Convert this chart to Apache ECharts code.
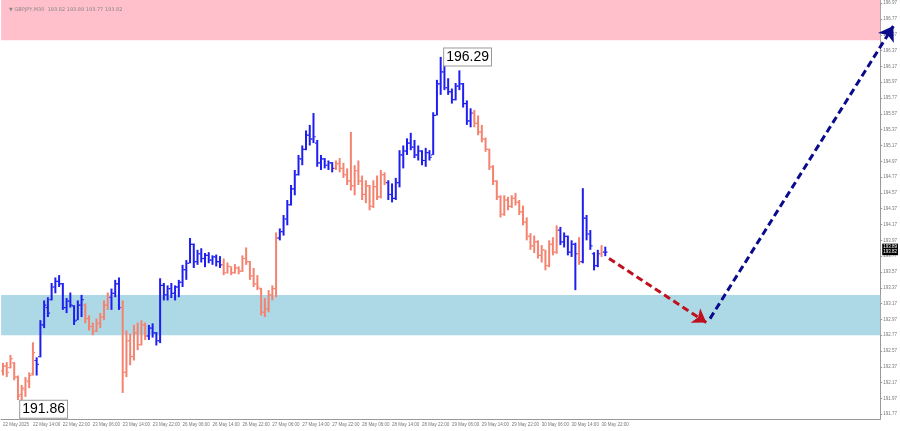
<!DOCTYPE html>
<html><head><meta charset="utf-8">
<script src="https://cdn.jsdelivr.net/npm/echarts@6/dist/echarts.min.js"></script>
<style>html,body{margin:0;padding:0;background:#fff}#c{width:900px;height:431px}</style>
</head><body><div id="c"></div>
<script>
const headerText = '\u25BC GBPJPY,M30  193.82 193.89 193.77 193.82';
const tickLabels = ['22 May 2025','22 May 14:00','22 May 22:00','23 May 06:00','23 May 14:00','23 May 22:00','26 May 06:00','26 May 14:00','26 May 22:00','27 May 06:00','27 May 14:00','27 May 22:00','28 May 06:00','28 May 14:00','28 May 22:00','29 May 06:00','29 May 14:00','29 May 22:00','30 May 06:00','30 May 14:00','30 May 22:00'];
const yTicks = [191.77,191.97,192.17,192.37,192.57,192.77,192.97,193.17,193.37,193.57,193.77,193.97,194.17,194.37,194.57,194.77,194.97,195.17,195.37,195.57,195.77,195.97,196.17,196.37,196.57,196.77,196.97];
const opens = [
192.32,192.38,192.36,192.42,192.24,192.02,192.08,192.18,192.28,192.45,
192.50,192.90,193.12,193.22,193.38,193.45,193.42,193.12,193.20,193.14,
192.96,193.15,193.15,192.98,192.88,192.82,192.92,193.00,193.15,193.25,
193.30,193.42,193.12,192.30,192.70,192.50,192.80,192.65,192.90,192.76,
192.86,192.80,192.70,193.40,193.28,193.36,193.30,193.38,193.44,193.60,
193.68,193.92,193.70,193.80,193.74,193.78,193.72,193.76,193.70,193.66,
193.56,193.64,193.56,193.62,193.58,193.74,193.70,193.52,193.42,193.36,
193.06,193.10,193.28,193.36,194.00,194.08,194.24,194.42,194.62,194.80,
195.00,195.12,195.30,195.25,195.20,194.95,195.00,194.92,194.95,194.88,
194.94,194.88,194.80,194.72,194.66,194.85,194.72,194.55,194.66,194.40,
194.65,194.52,194.80,194.70,194.55,194.50,194.70,195.05,195.10,195.20,
195.15,195.05,195.10,194.98,195.08,195.05,195.55,195.95,196.10,195.90,
195.85,195.75,195.92,195.95,195.70,195.48,195.58,195.45,195.34,195.25,
195.12,194.90,194.72,194.52,194.30,194.48,194.40,194.50,194.45,194.33,
194.20,194.02,193.90,193.95,193.78,193.85,193.65,193.92,193.82,194.10,
193.95,194.02,193.82,193.92,193.80,193.70,194.25,194.05,193.80,193.65,
193.80,193.82];
const closes = [
192.38,192.30,192.47,192.24,192.00,192.10,192.20,192.26,192.55,192.40,
192.90,193.15,193.05,193.38,193.45,193.42,193.12,193.20,193.15,192.95,
193.15,193.22,192.98,192.88,192.82,192.92,193.00,193.15,193.25,193.30,
193.42,193.12,192.30,192.70,192.50,192.80,192.65,192.90,192.76,192.86,
192.80,192.70,193.40,193.28,193.36,193.30,193.38,193.44,193.60,193.68,
193.92,193.70,193.80,193.74,193.78,193.72,193.76,193.70,193.66,193.56,
193.64,193.56,193.62,193.58,193.74,193.70,193.52,193.42,193.38,193.06,
193.10,193.28,193.36,194.00,194.08,194.24,194.42,194.62,194.80,195.00,
195.12,195.30,195.25,195.28,194.95,195.00,194.92,194.95,194.88,194.94,
194.88,194.80,194.72,194.66,194.85,194.72,194.55,194.66,194.40,194.65,
194.52,194.80,194.70,194.55,194.50,194.70,195.05,195.10,195.20,195.15,
195.05,195.10,194.98,195.08,195.02,195.55,195.95,196.10,195.90,195.85,
195.75,195.92,195.95,195.70,195.48,195.58,195.45,195.34,195.25,195.12,
194.90,194.72,194.52,194.30,194.48,194.40,194.50,194.45,194.33,194.20,
194.02,193.90,193.95,193.78,193.85,193.65,193.92,193.82,194.10,193.95,
194.02,193.82,193.92,193.80,193.70,194.25,194.05,193.90,193.65,193.80,
193.82,193.82];
const lows = [
192.26,192.24,192.35,192.20,191.95,191.86,191.99,192.10,192.26,192.26,
192.49,192.86,193.00,193.21,193.30,193.38,193.09,193.05,193.12,192.90,
192.96,193.00,192.92,192.83,192.77,192.81,192.86,192.96,193.09,193.09,
193.25,193.09,192.04,192.24,192.39,192.45,192.58,192.64,192.71,192.71,
192.74,192.64,192.67,193.21,193.21,193.24,193.21,193.25,193.38,193.47,
193.68,193.62,193.66,193.69,193.63,193.68,193.66,193.64,193.62,193.53,
193.55,193.53,193.55,193.54,193.57,193.66,193.47,193.38,193.34,193.02,
193.00,193.06,193.21,193.25,193.97,194.03,194.16,194.41,194.54,194.79,
194.92,195.11,195.17,195.20,194.90,194.86,194.88,194.86,194.83,194.86,
194.83,194.76,194.67,194.60,194.54,194.67,194.48,194.44,194.35,194.38,
194.48,194.50,194.67,194.48,194.45,194.48,194.64,194.88,195.05,195.11,
195.01,194.98,194.92,194.90,194.98,195.05,195.55,195.81,195.87,195.81,
195.70,195.74,195.87,195.65,195.43,195.40,195.40,195.30,195.21,195.09,
194.86,194.67,194.48,194.26,194.28,194.35,194.38,194.41,194.29,194.16,
193.97,193.85,193.81,193.74,193.69,193.59,193.63,193.78,193.80,193.91,
193.88,193.78,193.76,193.34,193.66,193.68,193.97,193.85,193.59,193.63,
193.76,193.77];
const highs = [
192.42,192.43,192.52,192.43,192.26,192.14,192.24,192.30,192.68,192.49,
192.96,193.21,193.25,193.43,193.50,193.53,193.43,193.24,193.31,193.15,
193.21,193.28,193.17,193.02,192.93,192.98,193.05,193.21,193.31,193.36,
193.47,193.50,193.21,192.83,192.79,192.90,192.93,192.96,192.93,192.90,
192.92,192.81,193.49,193.43,193.40,193.43,193.40,193.47,193.66,193.72,
194.00,193.93,193.85,193.87,193.81,193.82,193.78,193.79,193.77,193.74,
193.69,193.64,193.67,193.64,193.78,193.88,193.71,193.62,193.53,193.37,
193.24,193.34,193.40,194.07,194.12,194.29,194.48,194.67,194.86,195.05,
195.17,195.36,195.43,195.58,195.24,195.05,195.01,194.98,194.96,194.98,
195.01,194.95,194.88,195.34,194.92,194.98,194.79,194.73,194.67,194.73,
194.79,194.86,194.83,194.73,194.69,194.76,195.11,195.17,195.26,195.33,
195.24,195.17,195.11,195.14,195.11,195.59,196.00,196.29,196.19,196.02,
195.89,195.96,196.12,195.96,195.74,195.64,195.62,195.55,195.43,195.27,
195.13,194.92,194.73,194.54,194.54,194.52,194.54,194.57,194.48,194.41,
194.26,194.06,194.03,193.97,193.91,193.85,193.97,194.01,194.16,194.14,
194.07,194.03,193.97,193.94,194.01,194.63,194.29,194.10,193.82,193.85,
193.91,193.89];
const upWaves = [[9,21],[29,31],[39,58],[74,88],[103,125],[149,153],[155,159],[161,161]];
const sellZone = [196.50, 197.01];
const buyZone = [192.77, 193.28];
const lowMark = [5, 191.86];
const highMark = [117, 196.29];
const redArrow = [[162.2, 193.74], [188.0, 192.93]];
const blueArrow = [[189.1, 192.98], [238.2, 196.68]];
const lastPrices = [193.89, 193.82];
const slotCount = 235;

const BLUE = '#1e1ef0', SALMON = '#f5826e';
const FONT = 'Liberation Sans';
const N = opens.length;
const isUp = i => upWaves.some(([a, b]) => i >= a && i <= b);
const bars = opens.map((o, i) => [i, o, closes[i], lows[i], highs[i], isUp(i) ? 1 : 0]);
const cats = Array.from({ length: slotCount }, (_, i) => String(i));
const showIdx = i => i % 8 === 0 && i < N && tickLabels[i / 8] !== undefined;

function renderBar(params, api) {
  const i = api.value(0);
  const pO = api.coord([i, api.value(1)]);
  const pC = api.coord([i, api.value(2)]);
  const pL = api.coord([i, api.value(3)]);
  const pH = api.coord([i, api.value(4)]);
  const color = api.value(5) ? BLUE : SALMON;
  const x = pL[0];
  return {
    type: 'group',
    children: [
      { type: 'rect', shape: { x: x - 1, y: pH[1], width: 2, height: Math.max(1, pL[1] - pH[1]) }, style: { fill: color } },
      { type: 'rect', shape: { x: x - 2.2, y: pO[1] - 0.6, width: 1.4, height: 1.2 }, style: { fill: color } },
      { type: 'rect', shape: { x: x + 0.8, y: pC[1] - 0.6, width: 1.4, height: 1.2 }, style: { fill: color } }
    ]
  };
}

const chart = echarts.init(document.getElementById('c'), null, { renderer: 'canvas' });
chart.setOption({
  animation: false,
  backgroundColor: '#fff',
  title: { text: headerText, left: 4, top: 2, textStyle: { fontSize: 5, color: '#888', fontWeight: 'normal', fontFamily: 'DejaVu Sans' } },
  grid: { left: 0, right: 17, top: 0, bottom: 12 },
  xAxis: {
    type: 'category', data: cats, boundaryGap: true,
    axisLine: { lineStyle: { color: '#999' } },
    axisTick: { interval: showIdx, alignWithLabel: true, length: 3, lineStyle: { color: '#999' } },
    axisLabel: { interval: showIdx, formatter: (v, i) => tickLabels[i / 8] || '', align: 'left', fontSize: 4.5, color: '#777', margin: 3, fontFamily: FONT },
    splitLine: { show: false }
  },
  yAxis: {
    type: 'value', position: 'right', min: 191.71, max: 197.01, scale: true,
    axisLine: { show: true, lineStyle: { color: '#999' } },
    axisTick: { show: true, customValues: yTicks, length: 2, lineStyle: { color: '#999' } },
    axisLabel: { customValues: yTicks, formatter: v => v.toFixed(2), fontSize: 4.5, color: '#777', margin: 3, fontFamily: FONT },
    splitLine: { show: false }
  },
  series: [
    {
      type: 'line', data: [], z: 1, silent: true,
      markArea: {
        silent: true,
        data: [
          [{ yAxis: sellZone[0], itemStyle: { color: '#ffc0cb' } }, { yAxis: sellZone[1] }],
          [{ yAxis: buyZone[0], itemStyle: { color: '#add8e6' } }, { yAxis: buyZone[1] }]
        ]
      }
    },
    {
      type: 'custom', data: bars, z: 3, silent: true, clip: true,
      encode: { x: 0, y: [1, 2, 3, 4] },
      renderItem: renderBar
    },
    {
      type: 'line', data: [], z: 6, silent: true,
      markPoint: {
        silent: true, symbol: 'rect', symbolSize: 1,
        itemStyle: { color: 'rgba(0,0,0,0)' },
        label: { show: true, formatter: p => p.value.toFixed(2), color: '#000', fontSize: 14, fontFamily: FONT,
          backgroundColor: '#fff', borderColor: '#999', borderWidth: 1, padding: [2, 2, 1, 2] },
        data: [
          { coord: lowMark, value: lowMark[1], label: { position: 'right', distance: 0, offset: [-2, 2] } },
          { coord: highMark, value: highMark[1], label: { position: 'right', distance: 3, offset: [0, 0] } }
        ]
      },
      markLine: {
        silent: true, symbol: 'none',
        lineStyle: { color: 'rgba(0,0,0,0)', width: 0 },
        label: { show: true, position: 'end', formatter: p => p.value.toFixed(2), backgroundColor: '#000', color: '#fff',
          fontSize: 4.5, fontFamily: FONT, padding: [1, 1, 0, 1], distance: 2 },
        data: lastPrices.map(v => ({ yAxis: v }))
      }
    },
    {
      type: 'lines', coordinateSystem: 'cartesian2d', silent: true, z: 5, clip: false,
      data: [{ coords: redArrow }],
      symbol: ['none', 'arrow'], symbolSize: 13,
      lineStyle: { color: '#c0101e', width: 3, type: [7, 4], opacity: 1 }
    },
    {
      type: 'lines', coordinateSystem: 'cartesian2d', silent: true, z: 5, clip: false,
      data: [{ coords: blueArrow }],
      symbol: ['none', 'arrow'], symbolSize: 14,
      lineStyle: { color: '#0a0a8c', width: 3, type: [7, 4], opacity: 1 }
    }
  ]
});
</script>
</body></html>
